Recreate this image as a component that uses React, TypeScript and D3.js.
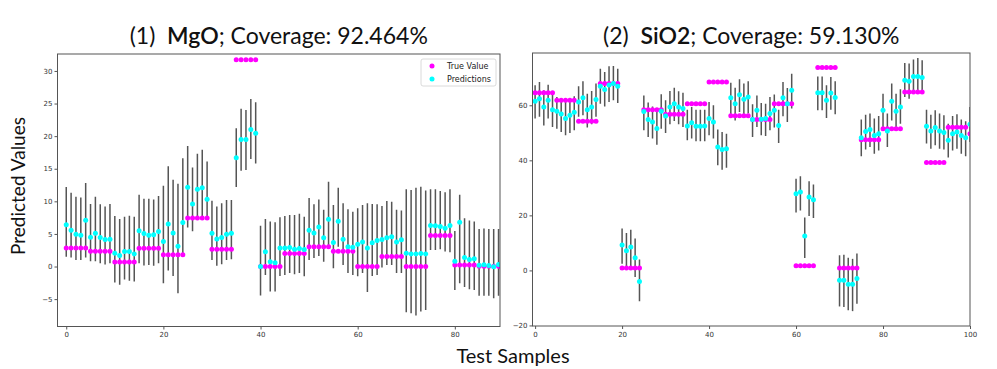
import React, {useEffect, useRef} from "react";
import * as d3 from "d3";

// (1) MgO — 90 test samples
const mgoTrue = [
    2.85, 2.85, 2.85, 2.85, 2.85, 2.35, 2.35, 2.35, 2.35, 2.35,
    0.7, 0.7, 0.7, 0.7, 0.7, 2.8, 2.8, 2.8, 2.8, 2.8,
    1.8, 1.8, 1.8, 1.8, 1.8, 7.45, 7.45, 7.45, 7.45, 7.45,
    2.65, 2.65, 2.65, 2.65, 2.65, 31.7, 31.7, 31.7, 31.7, 31.7,
    0, 0, 0, 0, 0, 2.0, 2.0, 2.0, 2.0, 2.0,
    3.05, 3.05, 3.05, 3.05, 3.05, 2.35, 2.35, 2.35, 2.35, 2.35,
    0, 0, 0, 0, 0, 1.55, 1.55, 1.55, 1.55, 1.55,
    0, 0, 0, 0, 0, 4.75, 4.75, 4.75, 4.75, 4.75,
    0.25, 0.25, 0.25, 0.25, 0.25, 0.05, 0.05, 0.05, 0.05, 0.05
];
const mgoPred = [
    6.39, 5.57, 4.96, 4.8, 7.1, 4.5, 5.1, 4.45, 4.14, 4.19,
    2.04, 1.69, 2.3, 2.3, 1.94, 5.47, 5.06, 4.8, 4.86, 5.37,
    3.83, 6.54, 5.16, 3.12, 6.75, 12.17, 9.6, 11.86, 12.07, 10.33,
    5.1, 4.24, 4.45, 4.96, 5.1, 16.7, 19.5, 19.5, 21.0, 20.46,
    0.0, 2.25, 0.72, 0.56, 2.86, 2.86, 2.9, 2.66, 2.76, 2.6,
    5.57, 5.16, 6.08, 4.4, 7.26, 3.68, 6.95, 4.19, 3.02, 2.97,
    3.43, 3.78, 2.86, 3.63, 3.99, 4.14, 4.4, 4.55, 3.78, 4.09,
    2.04, 1.94, 1.94, 2.0, 1.94, 6.29, 6.24, 6.13, 5.88, 6.29,
    0.82, 6.8, 1.38, 1.07, 1.18, 0.2, 0.26, 0.15, -0.05, 0.3
];
const mgoLow = [
    1.5, 1.4, 1.0, 1.0, 1.4, 0.8, 0.8, 0.5, 0.3, 0.5,
    -2.45, -2.8, -2.0, -2.2, -2.3, 0.5, 0.15, 0.25, 0.1, 0.5,
    -2.55, -0.6, -1.45, -4.1, 2.0, 6.0, 5.4, 7.6, 7.4, 7.4,
    1.0, 0.1, 0.35, 1.0, 1.1, 12.2, 14.7, 14.8, 16.5, 15.8,
    -4.45, -1.3, -3.85, -3.85, -1.45, -1.3, -1.0, -1.2, -1.0, -1.5,
    1.0, 1.3, 1.6, 0.75, 3.3, -0.25, 3.05, 0.25, -1.0, -1.3,
    -1.5, -1.0, -3.9, -1.45, -1.3, -0.15, 0.25, 0.25, -1.0, -1.0,
    -7.0, -7.15, -7.5, -6.9, -6.65, 2.55, 2.55, 2.65, 2.3, 2.2,
    -3.6, -2.55, -3.15, -3.5, -3.6, -4.5, -4.5, -4.5, -4.85, -4.5
];
const mgoHigh = [
    12.2, 11.3, 10.7, 10.6, 12.8, 9.6, 10.7, 9.55, 9.2, 9.6,
    7.75, 7.3, 7.65, 7.8, 7.65, 11.0, 10.4, 10.4, 10.3, 10.8,
    12.4, 15.4, 13.3, 12.7, 16.6, 18.5, 15.2, 17.3, 17.9, 16.1,
    10.1, 9.2, 9.7, 10.2, 10.2, 21.2, 24.2, 24.0, 25.7, 25.2,
    6.25, 7.3, 6.9, 6.8, 7.55, 7.75, 7.9, 7.9, 8.1, 7.65,
    10.5, 9.55, 10.3, 8.7, 13.0, 9.45, 12.1, 9.7, 8.8, 8.4,
    8.95, 9.45, 9.7, 9.6, 9.55, 9.3, 10.05, 9.95, 8.7, 8.6,
    11.85, 11.75, 12.1, 12.25, 11.65, 11.85, 11.85, 11.6, 11.4, 11.85,
    5.45, 11.0, 7.4, 7.05, 6.9, 5.75, 5.85, 5.75, 5.75, 5.75
];

// (2) SiO2 — 101 test samples
const sio2True = [
    64.6, 64.6, 64.6, 64.6, 64.6, 61.8, 61.8, 61.8, 61.8, 61.8,
    54.2, 54.2, 54.2, 54.2, 54.2, 67.9, 67.9, 67.9, 67.9, 67.9,
    0.85, 0.85, 0.85, 0.85, 0.85, 58.4, 58.4, 58.4, 58.4, 58.4,
    56.7, 56.7, 56.7, 56.7, 56.7, 60.6, 60.6, 60.6, 60.6, 60.6,
    68.5, 68.5, 68.5, 68.5, 68.5, 56.2, 56.2, 56.2, 56.2, 56.2,
    54.8, 54.8, 54.8, 54.8, 54.8, 60.6, 60.6, 60.6, 60.6, 60.6,
    1.7, 1.7, 1.7, 1.7, 1.7, 73.7, 73.7, 73.7, 73.7, 73.7,
    0.85, 0.85, 0.85, 0.85, 0.85, 47.5, 47.5, 47.5, 47.5, 47.5,
    51.5, 51.5, 51.5, 51.5, 51.5, 64.8, 64.8, 64.8, 64.8, 64.8,
    39.2, 39.2, 39.2, 39.2, 39.2, 52.0, 52.0, 52.0, 52.0, 52.0,
    49.7
];
const sio2Pred = [
    61.5, 62.4, 59.4, 61.8, 58.4, 57.8, 56.8, 55.2, 56.4, 57.5,
    61.2, 62.7, 58.4, 59.4, 62.1, 66.9, 65.7, 67.4, 67.9, 66.9,
    9.2, 7.15, 8.5, 4.6, -4.0, 57.7, 54.8, 53.9, 51.6, 57.8,
    56.1, 59.4, 60.6, 59.4, 58.8, 52.5, 53.7, 52.4, 52.4, 52.5,
    55.2, 53.9, 44.8, 43.9, 44.2, 62.7, 60.6, 63.8, 62.2, 63.0,
    54.8, 58.2, 54.9, 55.2, 57.0, 58.2, 52.7, 62.7, 60.6, 65.5,
    27.9, 28.5, 12.5, 26.7, 25.7, 64.6, 64.6, 61.8, 64.5, 62.8,
    -3.6, -3.6, -5.0, -5.0, -2.9, 48.2, 50.5, 51.2, 49.0, 49.7,
    58.2, 50.7, 61.5, 57.8, 59.4, 69.1, 68.7, 70.5, 70.5, 70.1,
    52.4, 50.7, 51.9, 50.7, 50.1, 47.3, 49.7, 50.3, 49.0, 48.2,
    53.1
];
const sio2Low = [
    55.2, 55.8, 52.7, 55.2, 52.1, 51.5, 50.3, 49.1, 49.9, 50.9,
    55.8, 56.4, 51.9, 53.1, 55.8, 60.6, 59.6, 61.2, 61.8, 60.8,
    2.4, 1.0, 1.0, -2.4, -11.2, 50.9, 48.5, 47.9, 45.7, 51.5,
    49.9, 53.1, 54.3, 53.1, 52.1, 47.3, 47.9, 46.9, 46.9, 46.9,
    49.1, 47.9, 38.2, 36.6, 37.3, 56.4, 54.5, 57.6, 56.0, 57.0,
    48.5, 52.1, 49.1, 48.8, 50.9, 51.9, 46.3, 56.0, 53.9, 58.8,
    21.0, 21.8, 4.5, 19.8, 19.0, 58.2, 58.2, 55.4, 58.4, 56.7,
    -13.1, -13.3, -14.5, -14.8, -12.1, 41.5, 43.9, 44.8, 42.4, 43.6,
    51.9, 44.8, 54.5, 51.5, 53.3, 63.0, 62.4, 64.2, 64.8, 64.2,
    46.1, 44.2, 45.5, 44.2, 43.9, 41.0, 43.6, 44.2, 42.4, 41.5,
    46.7
];
const sio2High = [
    67.3, 68.5, 65.5, 67.5, 64.6, 63.0, 62.4, 61.2, 62.4, 63.3,
    66.9, 68.7, 64.2, 65.2, 67.9, 73.3, 72.1, 74.2, 74.3, 73.3,
    15.2, 13.6, 14.8, 11.6, 4.0, 63.6, 61.0, 59.6, 57.6, 64.0,
    61.8, 65.2, 66.4, 65.1, 64.6, 58.4, 59.4, 58.4, 58.4, 58.4,
    61.2, 60.0, 51.2, 50.3, 49.7, 68.2, 66.4, 69.5, 67.9, 68.7,
    60.4, 63.6, 60.8, 60.6, 63.0, 63.9, 58.4, 68.5, 66.3, 71.5,
    33.3, 34.2, 19.2, 32.4, 31.2, 70.5, 70.5, 67.3, 70.3, 68.7,
    5.5, 5.7, 4.6, 4.2, 6.1, 54.8, 56.6, 57.0, 55.2, 56.1,
    64.2, 57.0, 67.9, 64.2, 65.8, 75.4, 75.2, 76.6, 77.2, 76.4,
    58.4, 56.6, 58.2, 57.0, 56.4, 53.3, 56.1, 56.7, 54.8, 54.2,
    59.4
];

const mgoYTicks = [-5, 0, 5, 10, 15, 20, 25, 30];
const mgoXTicks = [0, 20, 40, 60, 80];
const sio2YTicks = [-20, 0, 20, 40, 60];
const sio2XTicks = [0, 20, 40, 60, 80, 100];

interface Panel {
    id: string;
    num: string;
    name: string;
    coverage: string;
    truth: number[];
    pred: number[];
    low: number[];
    high: number[];
    xDomain: [number, number];
    yDomain: [number, number];
    xTicks: number[];
    yTicks: number[];
    left: number;
    right: number;
    top: number;
    bottom: number;
    legend: boolean;
}

const panels: Panel[] = [
    {
        id: "mgo", num: "(1)", name: "MgO", coverage: "92.464%",
        truth: mgoTrue, pred: mgoPred, low: mgoLow, high: mgoHigh,
        xDomain: [-1.8, 89.3], yDomain: [-9.2, 32.6],
        xTicks: mgoXTicks, yTicks: mgoYTicks,
        left: 57.5, right: 500, top: 54, bottom: 326.5, legend: true
    },
    {
        id: "sio2", num: "(2)", name: "SiO2", coverage: "59.130%",
        truth: sio2True, pred: sio2Pred, low: sio2Low, high: sio2High,
        xDomain: [-0.6, 100], yDomain: [-20.2, 79],
        xTicks: sio2XTicks, yTicks: sio2YTicks,
        left: 532.5, right: 970, top: 53, bottom: 326, legend: false
    }
];

const width = 997;
const height = 369;
const titleFont = "Lato, 'Noto Sans', sans-serif";
const tickFont = "'DejaVu Sans', sans-serif";

const App: React.FC = () => {
    const svgRef = useRef<SVGSVGElement>(null);

    useEffect(() => {
        const svg = d3.select(svgRef.current);
        svg.selectAll("*").remove();
        svg.append("rect").attr("width", width).attr("height", height).attr("fill", "white");

        panels.forEach(p => {
            const x = d3.scaleLinear().domain(p.xDomain).range([p.left, p.right]);
            const y = d3.scaleLinear().domain(p.yDomain).range([p.bottom, p.top]);
            const idx = d3.range(p.truth.length);

            svg.append("clipPath").attr("id", `clip-${p.id}`)
                .append("rect")
                .attr("x", p.left).attr("y", p.top)
                .attr("width", p.right - p.left).attr("height", p.bottom - p.top);

            const g = svg.append("g").attr("clip-path", `url(#clip-${p.id})`);

            // error bars
            g.append("g").selectAll("line").data(idx).join("line")
                .attr("x1", i => x(i)).attr("x2", i => x(i))
                .attr("y1", i => y(p.low[i])).attr("y2", i => y(p.high[i]))
                .attr("stroke", "#555").attr("stroke-width", 1.5);

            g.append("g").selectAll("circle").data(idx).join("circle")
                .attr("cx", i => x(i)).attr("cy", i => y(p.truth[i]))
                .attr("r", 2.5).attr("fill", "#ff00ff");

            g.append("g").selectAll("circle").data(idx).join("circle")
                .attr("cx", i => x(i)).attr("cy", i => y(p.pred[i]))
                .attr("r", 2.5).attr("fill", "#00ffff");

            // frame
            svg.append("rect")
                .attr("x", p.left).attr("y", p.top)
                .attr("width", p.right - p.left).attr("height", p.bottom - p.top)
                .attr("fill", "none").attr("stroke", "#555").attr("stroke-width", 1);

            const xAxis = svg.append("g")
                .attr("transform", `translate(0,${p.bottom})`)
                .call(d3.axisBottom(x).tickValues(p.xTicks).tickSize(3).tickPadding(3).tickFormat(d3.format("d")));
            const yAxis = svg.append("g")
                .attr("transform", `translate(${p.left},0)`)
                .call(d3.axisLeft(y).tickValues(p.yTicks).tickSize(3).tickPadding(2).tickFormat(d => `${d}`.replace("-", "\u2212")));
            [xAxis, yAxis].forEach(a => {
                a.select(".domain").remove();
                a.selectAll("line").attr("stroke", "#555");
                a.selectAll("text").attr("fill", "#333").attr("font-size", 7).attr("font-family", tickFont);
            });

            const title = svg.append("text")
                .attr("x", (p.left + p.right) / 2).attr("y", 44)
                .attr("text-anchor", "middle")
                .attr("font-family", titleFont).attr("font-size", 23).attr("fill", "#111");
            title.append("tspan").text(`${p.num}\u00a0\u00a0`);
            title.append("tspan").attr("font-weight", 600).text(p.name);
            title.append("tspan").text(`; Coverage: ${p.coverage}`);

            if (p.legend) {
                const lg = svg.append("g").attr("transform", `translate(${p.right - 79},${p.top + 5})`);
                lg.append("rect").attr("width", 75).attr("height", 27).attr("rx", 2)
                    .attr("fill", "white").attr("stroke", "#d0d0d0").attr("stroke-width", 0.8);
                [["True Value", "#ff00ff"], ["Predictions", "#00ffff"]].forEach(([label, color], k) => {
                    lg.append("circle").attr("cx", 11).attr("cy", 7 + k * 13).attr("r", 2.5).attr("fill", color);
                    lg.append("text").attr("x", 26).attr("y", 7 + k * 13).attr("dy", "0.35em")
                        .attr("font-family", tickFont).attr("font-size", 8).attr("fill", "#222").text(label);
                });
            }
        });

        svg.append("text")
            .attr("transform", "translate(25,186) rotate(-90)")
            .attr("text-anchor", "middle")
            .attr("font-family", titleFont).attr("font-size", 19).attr("fill", "#111")
            .text("Predicted Values");

        svg.append("text")
            .attr("x", 513).attr("y", 363)
            .attr("text-anchor", "middle")
            .attr("font-family", titleFont).attr("font-size", 20).attr("fill", "#111")
            .text("Test Samples");
    }, []);

    return <svg ref={svgRef} width={width} height={height}
                style={{position: "absolute", left: 0, top: 0}}></svg>;
};

export default App;
